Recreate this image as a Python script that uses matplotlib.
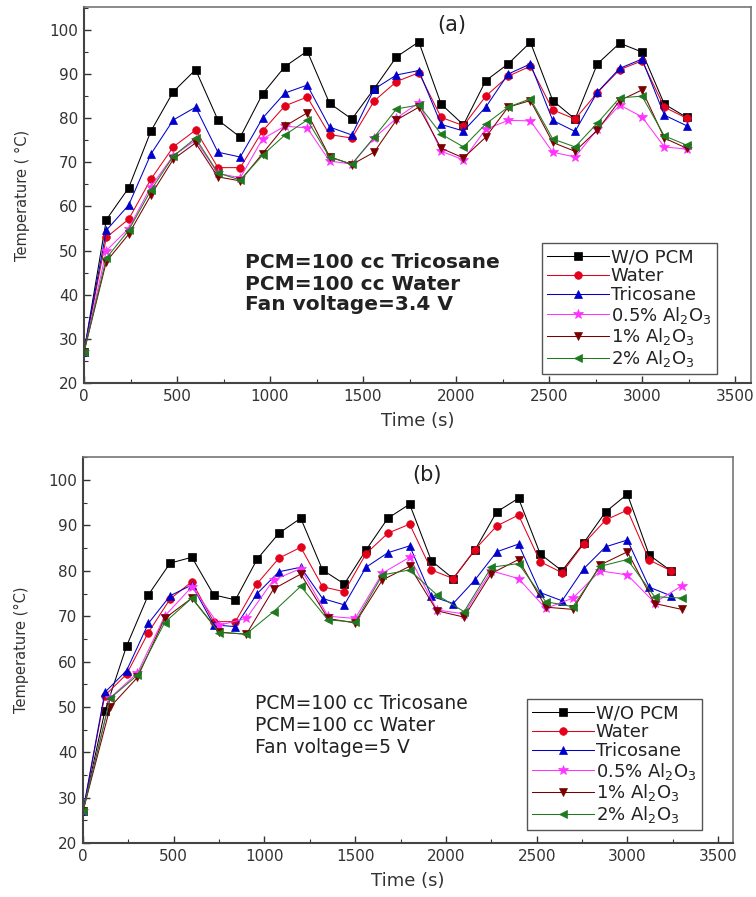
import matplotlib
matplotlib.use("Agg")
import matplotlib.pyplot as plt
from matplotlib.ticker import MultipleLocator

plt.rcParams['font.family'] = ['DejaVu Sans']
plt.rcParams['mathtext.fontset'] = 'dejavusans'

# ---------------- data ----------------
series_labels = ["W/O PCM", "Water", "Tricosane",
                 "0.5% Al$_2$O$_3$", "1% Al$_2$O$_3$", "2% Al$_2$O$_3$"]
colors = ["#000000", "#e3001b", "#0000cc", "#ff33ff", "#7a0000", "#1f7a1f"]
markers = ["s", "o", "^", "*", "v", "<"]

t120 = [0, 120, 240, 360, 480, 600, 720, 840, 960, 1080, 1200, 1320, 1440, 1560,
        1680, 1800, 1920, 2040, 2160, 2280, 2400, 2520, 2640, 2760, 2880, 3000,
        3120, 3240]
t150 = [0, 150, 300, 450, 600, 750, 900, 1050, 1200, 1350, 1500, 1650, 1800, 1950,
        2100, 2250, 2400, 2550, 2700, 2850, 3000, 3150, 3300]

# panel (a): Fan voltage = 3.4 V
a_wo = [27, 57, 64.2, 77.1, 86, 91, 79.6, 75.7, 85.5, 91.7, 95.2, 83.4, 79.8, 86.7,
        93.9, 97.3, 83.2, 78.5, 88.5, 92.3, 97.2, 84, 79.8, 92.3, 97, 95, 83.2, 80.2]
a_water = [27, 53, 57.1, 66.2, 73.5, 77.3, 68.8, 68.8, 77.1, 82.8, 84.8, 76.3, 75.5, 83.9,
           88.3, 90.3, 80.2, 78.3, 85, 89.5, 91.8, 81.9, 79.8, 85.8, 91, 93, 82.5, 80]
a_tric = [27, 54.6, 60.3, 71.9, 79.6, 82.5, 72.3, 71.2, 80, 85.7, 87.5, 78, 76.2, 86.6,
          89.8, 90.8, 78.6, 77.1, 82.5, 90, 92.3, 79.5, 77, 85.9, 91.3, 93.4, 80.7, 78.3]
a_al05 = [27, 50, 55, 64.5, 71.5, 75, 67.5, 66.5, 75.3, 78.2, 77.8, 70.3, 69.6, 75.5,
          80, 83.5, 72.5, 70.6, 77.5, 79.5, 79.4, 72.3, 71.2, 77.5, 83, 80.3, 73.5, 73]
a_al1 = [27, 47.5, 53.7, 62.6, 70.7, 74.4, 66.7, 65.8, 72, 78.2, 81.2, 71.3, 69.5, 72.3,
         79.6, 82.5, 73.2, 71, 75.7, 82.5, 84, 74.5, 72.5, 77.3, 84, 86.4, 75.5, 73.2]
a_al2 = [27, 48.3, 54.6, 63.7, 71.4, 75.5, 67.6, 66, 71.6, 76.2, 79.6, 71.2, 69.6, 75.7,
         82.1, 83, 76.4, 73.5, 78.7, 82.5, 84.4, 75.3, 73.5, 78.9, 84.6, 85, 76, 73.9]

# panel (b): Fan voltage = 5 V
b_wo = [27, 49, 63.4, 74.7, 81.7, 83, 74.7, 73.6, 82.6, 88.3, 91.6, 80.2, 77.1, 84.6,
        91.6, 94.7, 82.2, 78.3, 84.6, 93, 96, 83.7, 80, 86.2, 93, 96.9, 83.5, 80]
b_water = [27, 52.5, 57.2, 66.4, 73.8, 77.6, 68.8, 68.8, 77.2, 82.8, 85.2, 76.5, 75.4, 83.8,
           88.3, 90.3, 80.2, 78.3, 84.7, 89.9, 92.3, 82, 79.6, 86, 91.2, 93.4, 82.4, 80]
b_tric = [27, 53.2, 58, 68.4, 74.5, 76.9, 68.1, 67.7, 75, 79.8, 80.8, 73.9, 72.5, 80.8,
          84, 85.5, 74.4, 72.8, 78, 84.2, 85.9, 75.2, 73.4, 80.5, 85.3, 86.8, 76.4, 74.5]
b_al05 = [27, 52, 57.5, 70, 76.5, 68, 69.5, 78, 80.5, 70, 69.5, 79.5, 83, 71.4,
          70.5, 80, 78.3, 71.7, 74, 80, 79.1, 73, 76.7]
b_al1 = [27, 50, 56.5, 69.5, 74, 66.5, 66, 76, 79.3, 69.5, 68.5, 78, 81, 71.2,
         69.8, 79.4, 82.5, 72, 71.5, 81.3, 84.2, 72.8, 71.5]
b_al2 = [27, 51.9, 57, 68.6, 74, 66.4, 66.1, 71, 76.6, 69.2, 68.7, 79.1, 80.2, 74.7,
         71, 80.8, 81.6, 73.2, 72.1, 81, 82.5, 74.3, 74]

x_ticks = [0, 500, 1000, 1500, 2000, 2500, 3000, 3500]
y_ticks = [20, 30, 40, 50, 60, 70, 80, 90, 100]

panels = [
    dict(rect=[84/756, 1-383/897, (751-84)/756, (383-7)/897], xmax=3586, ymax=105.2,
         x=[t120, t120, t120, t120, t120, t120],
         y=[a_wo, a_water, a_tric, a_al05, a_al1, a_al2],
         title="(a)", title_xy=(452, 25), ylabel="Temperature ( \u00b0C)",
         notes=["PCM=100 cc Tricosane", "PCM=100 cc Water", "Fan voltage=3.4 V"],
         note_xy=(245, [262, 284, 305]), note_weight="semibold", note_size=14.5,
         leg_xy=(542, 243)),
    dict(rect=[83/756, 1-843/897, (733-83)/756, (843-457)/897], xmax=3582, ymax=105.1,
         x=[t120, t120, t120, t150, t150, t150],
         y=[b_wo, b_water, b_tric, b_al05, b_al1, b_al2],
         title="(b)", title_xy=(427, 475), ylabel="Temperature (\u00b0C)",
         notes=["PCM=100 cc Tricosane", "PCM=100 cc Water", "Fan voltage=5 V"],
         note_xy=(255, [703, 725, 747]), note_weight="normal", note_size=13.5,
         leg_xy=(527, 699)),
]

W, H = 756, 897
fig = plt.figure(figsize=(W/100, H/100), dpi=100)

for p in panels:
    ax = fig.add_axes(p["rect"])
    for xs, ys, lab, c, m in zip(p["x"], p["y"], series_labels, colors, markers):
        ms = 7.5 if m == "*" else 5.5
        ax.plot(xs, ys, color=c, lw=0.75, marker=m, ms=ms, mfc=c, mec=c, mew=0.5,
                label=lab)
    ax.set_xlim(0, p["xmax"])
    ax.set_ylim(20, p["ymax"])
    ax.set_xticks(x_ticks)
    ax.set_yticks(y_ticks)
    ax.xaxis.set_minor_locator(MultipleLocator(250))
    ax.yaxis.set_minor_locator(MultipleLocator(5))
    ax.tick_params(which="major", direction="in", length=5, width=1.0,
                   labelsize=11, colors="#333333", labelcolor="#333333", pad=4)
    ax.tick_params(which="minor", direction="in", length=3, width=0.8, colors="#333333")
    for side, sp in ax.spines.items():
        sp.set_color("#444444" if side in ("left", "bottom") else "#777777")
        sp.set_linewidth(1.5 if side in ("left", "bottom") else 1.2)
    ax.set_xlabel("Time (s)", fontsize=13, color="#333333", labelpad=6)
    ax.set_ylabel(p["ylabel"], fontsize=10.5, color="#333333", labelpad=14)

    fig.text(p["title_xy"][0]/W, 1 - p["title_xy"][1]/H, p["title"], fontsize=15,
             ha="center", va="center", color="#222222")
    nx, nys = p["note_xy"]
    for txt, ny in zip(p["notes"], nys):
        fig.text(nx/W, 1 - ny/H, txt, fontsize=p["note_size"], ha="left", va="center",
                 fontweight=p["note_weight"], color="#222222")

    leg = ax.legend(loc="upper left", bbox_to_anchor=(p["leg_xy"][0]/W, 1 - p["leg_xy"][1]/H),
                    bbox_transform=fig.transFigure, borderaxespad=0, fontsize=13,
                    frameon=True, fancybox=False, edgecolor="#555555", framealpha=1,
                    handlelength=3.4, handletextpad=0.1, labelspacing=0.04,
                    borderpad=0.3, markerscale=1.0)
    leg.get_frame().set_linewidth(1.0)
    for t in leg.get_texts():
        t.set_color("#222222")

fig.savefig("out.png", dpi=100)
